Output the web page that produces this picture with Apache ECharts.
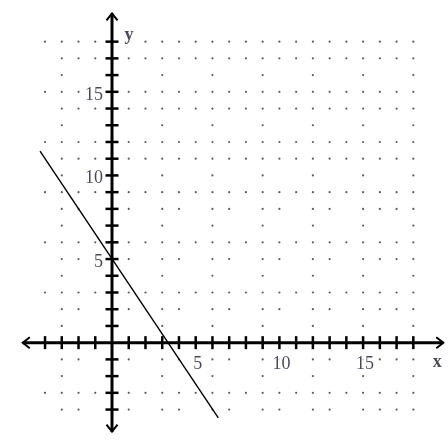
<!DOCTYPE html>
<html>
<head>
<meta charset="UTF-8">
<title></title>
<script src="https://cdn.jsdelivr.net/npm/echarts@6/dist/echarts.min.js"></script>
</head>
<body style="margin:0;background:#fff">
<div id="container" style="width:448px;height:443px;"></div>
<script type="text/javascript">
// unit ticks on both axes (zero is the crossing, no tick there)
var xTicks = [-4, -3, -2, -1, 1, 2, 3, 4, 5, 6, 7, 8, 9, 10, 11, 12, 13, 14, 15, 16, 17, 18];
var yTicks = [-4, -3, -2, -1, 1, 2, 3, 4, 5, 6, 7, 8, 9, 10, 11, 12, 13, 14, 15, 16, 17, 18];
var xLabels = [5, 10, 15];
var yLabels = [5, 10, 15];

// where the arrow tips sit
var xAxisEnds = [-5.33, 19.79];
var yAxisEnds = [-5.32, 19.69];

// the graphed line, end points
var lineX = [-4.3, 6.35];
var lineY = [11.45, -4.5];

// dot grid (the scan drops some dots, rows follow a pattern of three)
var fullRows = [18, 15, 12, 9, 6, 3, -3];
var fullCols = [-4, -3, -2, -1, 1, 2, 3, 4, 5, 6, 7, 8, 9, 10, 11, 12, 13, 14, 15, 16, 17, 18];
var sparseRows = [16, 13, 10, 7, 4, 1, -2];
var sparseCols = [-3, 3, 6, 9, 12, 15, 18];
var upperRows = [17, 14, 11];
var upperCols = [-3, -2, -1, 1, 2, 3, 4, 5, 6, 7, 8, 9, 10, 11, 12, 13, 14, 15, 16, 17, 18];
var lowerRows = [8, 5, 2, -1, -4];
var lowerCols = [-3, -2, 1, 3, 4, 6, 7, 9, 10, 12, 13, 15, 16, 17, 18];

var dots = [];
function addDots(rows, cols) {
	rows.forEach(function (r) {
		cols.forEach(function (c) { dots.push([c, r]); });
	});
}
addDots(fullRows, fullCols);
addDots(sparseRows, sparseCols);
addDots(upperRows, upperCols);
addDots(lowerRows, lowerCols);

var dom = document.getElementById('container');
var myChart = echarts.init(dom);

var labelColor = '#1a1a30';
var serif = '"Liberation Serif", "DejaVu Serif", serif';

function tickItem(vertical) {
	return function (params, api) {
		var p = api.coord([api.value(0), api.value(1)]);
		var h = 6.5;
		return {
			type: 'line',
			shape: vertical
				? { x1: p[0], y1: p[1] - h, x2: p[0], y2: p[1] + h }
				: { x1: p[0] - h, y1: p[1], x2: p[0] + h, y2: p[1] },
			style: { stroke: '#000', lineWidth: 2.5 }
		};
	};
}

// arrow heads: value, value, pixel direction
var arrows = [
	[xAxisEnds[1], 0, 1, 0],
	[xAxisEnds[0], 0, -1, 0],
	[0, yAxisEnds[1], 0, -1],
	[0, yAxisEnds[0], 0, 1]
];

function arrowItem(params, api) {
	var p = api.coord([api.value(0), api.value(1)]);
	var ux = api.value(2), uy = api.value(3);
	var len = 7, half = 5.5;
	var bx = p[0] - ux * len, by = p[1] - uy * len;
	return {
		type: 'polyline',
		shape: { points: [[bx - uy * half, by + ux * half], p, [bx + uy * half, by - ux * half]] },
		style: { stroke: '#000', lineWidth: 2, fill: null }
	};
}

function nameSeries(point, text, offset) {
	return {
		type: 'scatter',
		data: [point],
		symbolSize: 0,
		z: 5,
		label: {
			show: true, position: 'inside', offset: offset,
			formatter: text,
			color: labelColor, fontFamily: serif, fontSize: 18, fontWeight: 'bold',
			backgroundColor: '#fff'
		}
	};
}

var option = {
	animation: false,
	grid: { left: 11.56, top: 8.2, width: 435.24, height: 435.24 },
	xAxis: { type: 'value', min: -6, max: 20, show: false, splitLine: { show: false } },
	yAxis: { type: 'value', min: -6, max: 20, show: false, splitLine: { show: false } },
	series: [{
		// dot grid
		type: 'scatter',
		data: dots,
		symbolSize: 2.2,
		itemStyle: { color: '#333' },
		silent: true,
		z: 1
	}, {
		// the graphed line
		type: 'line',
		data: lineX.map(function (x, i) { return [x, lineY[i]]; }),
		symbol: 'none',
		lineStyle: { color: '#000', width: 1.4 },
		clip: false,
		z: 3
	}, {
		// x axis
		type: 'line',
		data: [[xAxisEnds[0], 0], [xAxisEnds[1], 0]],
		symbol: 'none',
		lineStyle: { color: '#000', width: 3 },
		clip: false,
		z: 4
	}, {
		// y axis
		type: 'line',
		data: [[0, yAxisEnds[0]], [0, yAxisEnds[1]]],
		symbol: 'none',
		lineStyle: { color: '#000', width: 3 },
		clip: false,
		z: 4
	}, {
		type: 'custom',
		renderItem: tickItem(true),
		data: xTicks.map(function (v) { return [v, 0]; }),
		clip: false,
		z: 4
	}, {
		type: 'custom',
		renderItem: tickItem(false),
		data: yTicks.map(function (v) { return [0, v]; }),
		clip: false,
		z: 4
	}, {
		type: 'custom',
		renderItem: arrowItem,
		data: arrows,
		clip: false,
		z: 4
	}, {
		// x tick labels
		type: 'scatter',
		data: xLabels.map(function (v) { return [v, 0]; }),
		symbolSize: 0,
		z: 5,
		label: {
			show: true, position: 'inside', offset: [2, 22],
			formatter: function (p) { return p.value[0]; },
			color: labelColor, fontFamily: serif, fontSize: 18,
			backgroundColor: '#fff', padding: [0, 1]
		}
	}, {
		// y tick labels
		type: 'scatter',
		data: yLabels.map(function (v) { return [0, v]; }),
		symbolSize: 0,
		z: 5,
		label: {
			show: true, position: 'left', distance: 8, offset: [0, 3],
			formatter: function (p) { return p.value[1]; },
			color: labelColor, fontFamily: serif, fontSize: 18,
			backgroundColor: '#fff', padding: [0, 1]
		}
	},
		nameSeries([xAxisEnds[1], 0], 'x', [-6, 20]),
		nameSeries([0, yAxisEnds[1]], 'y', [17, 22])
	]
};

myChart.setOption(option);
</script>
</body>
</html>
